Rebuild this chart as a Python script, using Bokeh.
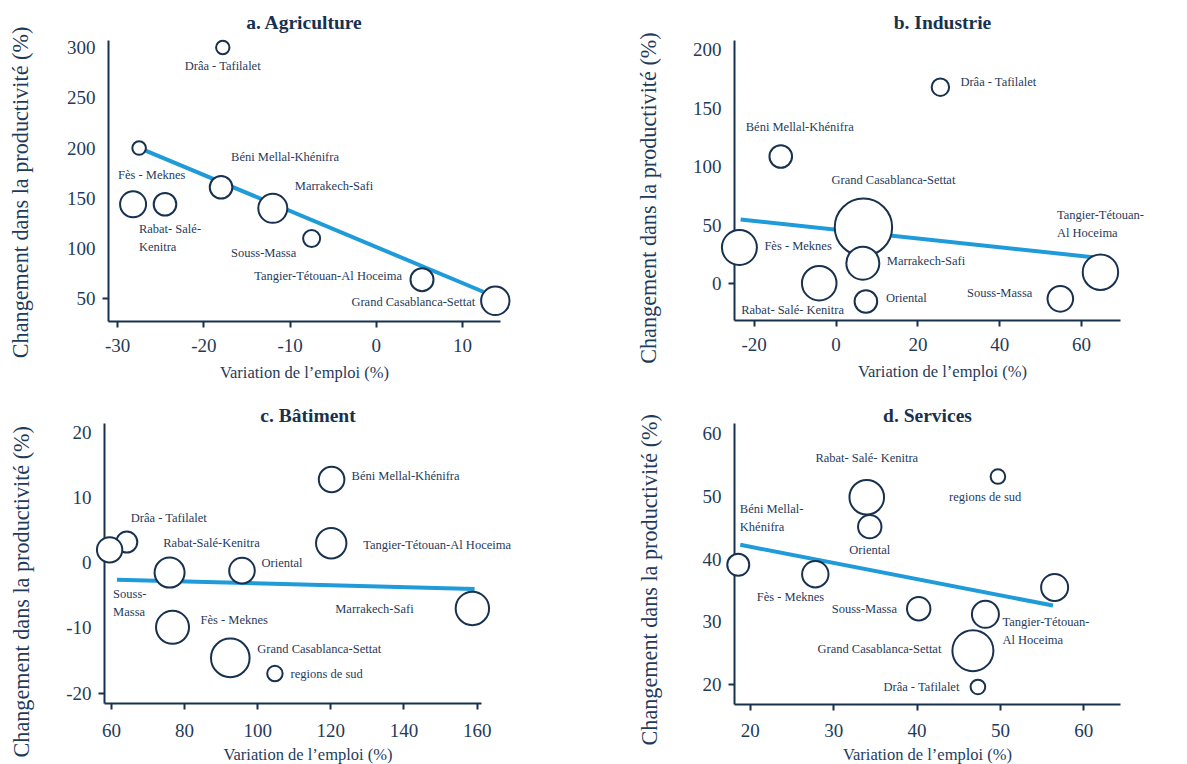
from bokeh.plotting import figure
from bokeh.models import ColumnDataSource, LabelSet, LinearAxis, FixedTicker, Title, Range1d
from bokeh.layouts import row, column
from bokeh.core.properties import value
from bokeh.embed import file_html
from bokeh.resources import INLINE

FONT = "Liberation Serif"
NAVY = "#17314f"
TEXT = "#1f3b5b"
BLUE = "#1e9bd8"

# ---------------- a. Agriculture ----------------
regions_a = ["Drâa-Tafilalet", "Oriental", "Fès-Meknès", "Rabat-Salé-Kénitra", "Béni Mellal-Khénifra",
             "Marrakech-Safi", "Souss-Massa", "Tanger-Tétouan-Al Hoceima", "Casablanca-Settat"]
emploi_a = [-17.8, -27.5, -28.2, -24.5, -18.0, -12.0, -7.5, 5.3, 13.8]
prod_a = [300, 200, 144, 144, 161, 140, 110, 69, 48]
poids_a = [6.7, 6.8, 13.0, 11.3, 11.3, 14.5, 8.5, 11.5, 14.2]
etiq_a = ["Drâa - Tafilalet", "", "Fès  - Meknes", "Rabat- Salé-\nKenitra", "Béni Mellal-Khénifra",
          "Marrakech-Safi", "Souss-Massa", "Tangier-Tétouan-Al Hoceima", "Grand Casablanca-Settat"]
tend_x_a = [-26.9, 12.4]
tend_y_a = [198, 57]
xticks_a = [-30, -20, -10, 0, 10]
yticks_a = [50, 100, 150, 200, 250, 300]

# ---------------- b. Industrie ----------------
regions_b = ["Drâa-Tafilalet", "Béni Mellal-Khénifra", "Fès-Meknès", "Rabat-Salé-Kénitra", "Casablanca-Settat",
             "Marrakech-Safi", "Oriental", "Souss-Massa", "Tanger-Tétouan-Al Hoceima"]
emploi_b = [25.5, -13.5, -23.6, -4.1, 6.7, 6.55, 7.3, 54.8, 64.6]
prod_b = [167.8, 108.5, 30.8, 0.3, 48.1, 17.4, -15.4, -13.1, 9.7]
poids_b = [8.7, 11.3, 17.5, 17.3, 28.7, 16.5, 11.3, 12.8, 17.7]
etiq_b = ["Drâa - Tafilalet", "Béni Mellal-Khénifra", "Fès  - Meknes", "Rabat- Salé- Kenitra",
          "Grand Casablanca-Settat", "Marrakech-Safi", "Oriental", "Souss-Massa", "Tangier-Tétouan-\nAl Hoceima"]
tend_x_b = [-23.3, 62.8]
tend_y_b = [54.7, 22.5]
xticks_b = [-20, 0, 20, 40, 60]
yticks_b = [0, 50, 100, 150, 200]

# ---------------- c. Bâtiment ----------------
regions_c = ["Béni Mellal-Khénifra", "Drâa-Tafilalet", "Souss-Massa", "Rabat-Salé-Kénitra", "Oriental",
             "Tanger-Tétouan-Al Hoceima", "Marrakech-Safi", "Fès-Meknès", "Casablanca-Settat", "Régions du sud"]
emploi_c = [120.2, 64.2, 59.5, 75.9, 95.7, 120.1, 158.7, 76.7, 92.5, 104.7]
prod_c = [12.8, 3.2, 2.0, -1.5, -1.2, 3.0, -7.0, -9.9, -14.6, -17.0]
poids_c = [12.8, 10.5, 12.7, 15.0, 12.8, 15.2, 16.7, 16.5, 19.3, 7.7]
etiq_c = ["Béni Mellal-Khénifra", "Drâa - Tafilalet", "Souss-\nMassa", "Rabat-Salé-Kenitra", "Oriental",
          "Tangier-Tétouan-Al Hoceima", "Marrakech-Safi", "Fès  - Meknes", "Grand Casablanca-Settat",
          "regions de sud"]
tend_x_c = [61.5, 159.3]
tend_y_c = [-2.6, -4.0]
xticks_c = [60, 80, 100, 120, 140, 160]
yticks_c = [-20, -10, 0, 10, 20]

# ---------------- d. Services ----------------
regions_d = ["Rabat-Salé-Kénitra", "Oriental", "Régions du sud", "Béni Mellal-Khénifra", "Fès-Meknès",
             "Marrakech-Safi", "Souss-Massa", "Tanger-Tétouan-Al Hoceima", "Casablanca-Settat", "Drâa-Tafilalet"]
emploi_d = [33.97, 34.33, 49.7, 18.56, 27.8, 56.5, 40.2, 48.2, 46.7, 47.3]
prod_d = [49.9, 45.2, 53.2, 39.1, 37.6, 35.5, 32.1, 31.2, 25.4, 19.6]
poids_d = [17.3, 11.7, 7.3, 11.0, 13.2, 13.5, 11.7, 13.5, 20.5, 7.3]
etiq_d = ["Rabat- Salé- Kenitra", "Oriental", "regions de sud", "Béni Mellal-\nKhénifra", "Fès  - Meknes",
          "", "Souss-Massa", "Tangier-Tétouan-\nAl Hoceima", "Grand Casablanca-Settat", "Drâa - Tafilalet"]
tend_x_d = [18.8, 56.3]
tend_y_d = [42.3, 32.6]
xticks_d = [20, 30, 40, 50, 60]
yticks_d = [20, 30, 40, 50, 60]

# ---------------- label placement (screen px offsets, alignment) ----------------
lab_a = dict(dx=[0, 0, -15, 5, 10, 22, -48, -20, -20],
             dy=[-20, 0, 28, -35.5, 29, 21, -16, 2, -2.7],
             al=["center", "left", "left", "center", "left", "left", "center", "right", "right"])
lab_b = dict(dx=[20, -35, 25, -78, 30, 24, 20, -28, 0],
             dy=[3.7, 28, 0, -28.3, 45.7, 0.7, 2, 4.3, 46.7],
             al=["left", "left", "left", "left", "center", "left", "left", "right", "center"])
lab_c = dict(dx=[20, 4, 3.5, -6.3, 19.5, 32, -58.7, 28, 27, 15.7],
             dy=[1.7, 22.6, -55, 28.3, 6.3, -2.7, -2, 6.3, 7, -2],
             al=["left", "left", "left", "left", "left", "left", "right", "left", "left", "left"])
lab_d = dict(dx=[0, 0, -12.7, 1.6, 12, 0, -21.7, 60.5, -31.5, -18.3],
             dy=[37.7, -24.7, -21.7, 45.3, -24.3, 0, -1.7, -18, 0, -1.3],
             al=["center", "center", "center", "left", "right", "center", "right", "center", "right", "right"])
LAB_DY = 1.5

# ---------------- panel geometry (page px) ----------------
# xlim: visible frame range; xaxis: extent of the drawn x axis line
geo_a = dict(l=108, r=30, t=39, b=73, fw=392, fh=281, xlim=(-31.05, 14.4), xaxis=(-31.05, 14.4),
             ylim=(27.4, 307.0), tstand=15, yoff=-36.7, gap=27, s1=11, s2=8)
geo_b = dict(l=204, r=20, t=40, b=73, fw=416, fh=280, xlim=(-24.8, 76.83), xaxis=(-24.8, 69.5),
             ylim=(-31.6, 207.7), tstand=15, yoff=-43.3, gap=25, s1=11, s2=8)
geo_c = dict(l=104, r=0, t=29, b=62, fw=407, fh=280, xlim=(58.1, 169.4), xaxis=(58.1, 161.2),
             ylim=(-21.6, 21.4), tstand=-5, yoff=-54, gap=26, s1=14, s2=5)
geo_d = dict(l=223, r=40, t=30, b=60, fw=386, fh=281, xlim=(18.11, 64.4), xaxis=(18.11, 64.4),
             ylim=(16.8, 61.67), tstand=-4, yoff=-41, gap=34, s1=13, s2=5)


def panel(title, emploi, prod, poids, etiq, lab, tx, ty, xticks, yticks, g):
    p = figure(frame_width=g["fw"], frame_height=g["fh"],
               min_border_left=g["l"], min_border_right=g["r"],
               min_border_top=g["t"], min_border_bottom=g["b"],
               x_range=Range1d(*g["xlim"]), y_range=Range1d(*g["ylim"]),
               y_axis_location=None, output_backend="svg", toolbar_location=None,
               background_fill_color="white", border_fill_color="white")
    p.outline_line_color = None
    p.grid.visible = False

    p.title.text = title
    p.title.align = "center"
    p.title.text_font = FONT
    p.title.text_font_size = "19.5px"
    p.title.text_font_style = "bold"
    p.title.text_color = NAVY
    p.title.standoff = g["tstand"]

    xa = p.xaxis[0]
    xa.bounds = g["xaxis"]
    xa.ticker = FixedTicker(ticks=xticks)
    xa.major_label_overrides = {t: str(t) for t in xticks}
    xa.axis_line_color = NAVY
    xa.axis_line_width = 2
    xa.major_tick_line_color = NAVY
    xa.major_tick_line_width = 2
    xa.major_tick_out = 6
    xa.major_tick_in = 0
    xa.minor_tick_line_color = None
    xa.major_label_text_font = FONT
    xa.major_label_text_font_size = "19px"
    xa.major_label_text_color = TEXT
    xa.major_label_standoff = g["s1"]
    xa.axis_label = "Variation de l’emploi (%)"
    xa.axis_label_text_font = FONT
    xa.axis_label_text_font_size = "16.5px"
    xa.axis_label_text_font_style = "normal"
    xa.axis_label_text_color = TEXT
    xa.axis_label_standoff = g["s2"]

    # inner y axis: line + single bottom tick
    ya_in = LinearAxis(ticker=FixedTicker(ticks=[yticks[0]]),
                       major_label_overrides={yticks[0]: ""},
                       axis_line_color=NAVY, axis_line_width=2,
                       major_tick_line_color=NAVY, major_tick_line_width=2,
                       major_tick_out=6, major_tick_in=0, minor_tick_line_color=None,
                       major_label_standoff=0, major_label_text_font_size="1px")
    p.add_layout(ya_in, "left")
    # outer y axis: tick labels (its blank axis label only reserves the gap before the title)
    ya_out = LinearAxis(ticker=FixedTicker(ticks=yticks),
                        major_label_overrides={t: str(t) for t in yticks},
                        axis_line_color=None, major_tick_line_color=None,
                        major_tick_out=0, major_tick_in=0, minor_tick_line_color=None,
                        major_label_standoff=7, major_label_text_font=FONT,
                        major_label_text_font_size="19px", major_label_text_color=TEXT,
                        axis_label=" ", axis_label_text_font_size="1px",
                        axis_label_standoff=g["gap"])
    p.add_layout(ya_out, "left")
    p.add_layout(Title(text="Changement dans la productivité (%)", align="left",
                       offset=g["yoff"], standoff=0, text_font=FONT,
                       text_font_size="22.2px", text_font_style="normal", text_color=TEXT), "left")

    # trend line
    p.line(tx, ty, line_color=BLUE, line_width=4)

    # bubbles
    src = ColumnDataSource(dict(x=emploi, y=prod, s=[2 * w for w in poids]))
    p.scatter(x="x", y="y", size="s", source=src, marker="circle", fill_color="white",
              line_color=NAVY, line_width=2, level="annotation")

    # labels
    n = len(emploi)
    for a in ("left", "center", "right"):
        idx = [i for i in range(n) if lab["al"][i] == a and etiq[i]]
        if not idx:
            continue
        ls = ColumnDataSource(dict(x=[emploi[i] for i in idx], y=[prod[i] for i in idx],
                                   t=[etiq[i] for i in idx], dx=[lab["dx"][i] for i in idx],
                                   dy=[lab["dy"][i] + LAB_DY for i in idx]))
        p.add_layout(LabelSet(x="x", y="y", text="t", x_offset="dx", y_offset="dy", source=ls,
                              text_align=a, text_baseline="middle", text_font=value(FONT),
                              text_font_size="12.5px", text_color=TEXT, text_line_height=1.3))
    return p


pa = panel("a. Agriculture", emploi_a, prod_a, poids_a, etiq_a, lab_a, tend_x_a, tend_y_a, xticks_a, yticks_a, geo_a)
pb = panel("b. Industrie", emploi_b, prod_b, poids_b, etiq_b, lab_b, tend_x_b, tend_y_b, xticks_b, yticks_b, geo_b)
pc = panel("c. Bâtiment", emploi_c, prod_c, poids_c, etiq_c, lab_c, tend_x_c, tend_y_c, xticks_c, yticks_c, geo_c)
pd = panel("d. Services", emploi_d, prod_d, poids_d, etiq_d, lab_d, tend_x_d, tend_y_d, xticks_d, yticks_d, geo_d)

layout = column(row(pa, pb), row(pc, pd))
open("out.html", "w").write(file_html(layout, INLINE))
